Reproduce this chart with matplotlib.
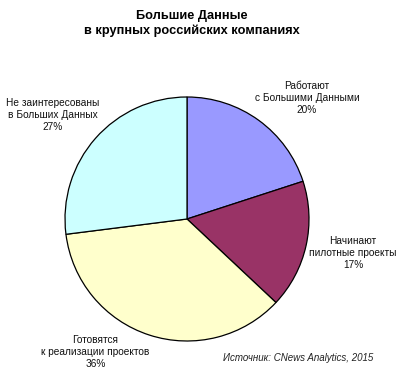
import matplotlib
matplotlib.use('Agg')
import matplotlib.pyplot as plt

plt.rcParams['font.family'] = ['Liberation Sans', 'DejaVu Sans']

labels = ['Работают\nс Большими Данными', 'Начинают\nпилотные проекты',
          'Готовятся\nк реализации проектов', 'Не заинтересованы\nв Больших Данных']
shares = [20, 17, 36, 27]
colors = ['#9999FF', '#993366', '#FFFFCC', '#CCFFFF']
# label centres in pie units
label_pos = [(0.984, 0.992), (1.361, -0.279), (-0.750, -1.090), (-1.098, 0.852)]

fig = plt.figure(figsize=(4.0, 3.79), dpi=100)
ax = fig.add_axes([65 / 400, 38 / 379, 244 / 400, 244 / 379])
ax.pie(shares, colors=colors, startangle=90, counterclock=False,
       wedgeprops={'edgecolor': 'black', 'linewidth': 0.9})
ax.set_xlim(-1, 1)
ax.set_ylim(-1, 1)
ax.set_aspect('auto')
ax.axis('off')

for lab, val, (x, y) in zip(labels, shares, label_pos):
    ax.text(x, y, f'{lab}\n{val}%', ha='center', va='center', fontsize=7.3,
            linespacing=1.25, color='#111111', clip_on=False)

fig.text(0.48, 0.937, 'Большие Данные\nв крупных российских компаниях',
         ha='center', va='center', fontsize=9.2, fontweight='bold', linespacing=1.25)
fig.text(0.745, 0.055, 'Источник: CNews Analytics, 2015', ha='center', va='center',
         fontsize=7, style='italic', color='#222222')

fig.savefig('out.png', dpi=100)
